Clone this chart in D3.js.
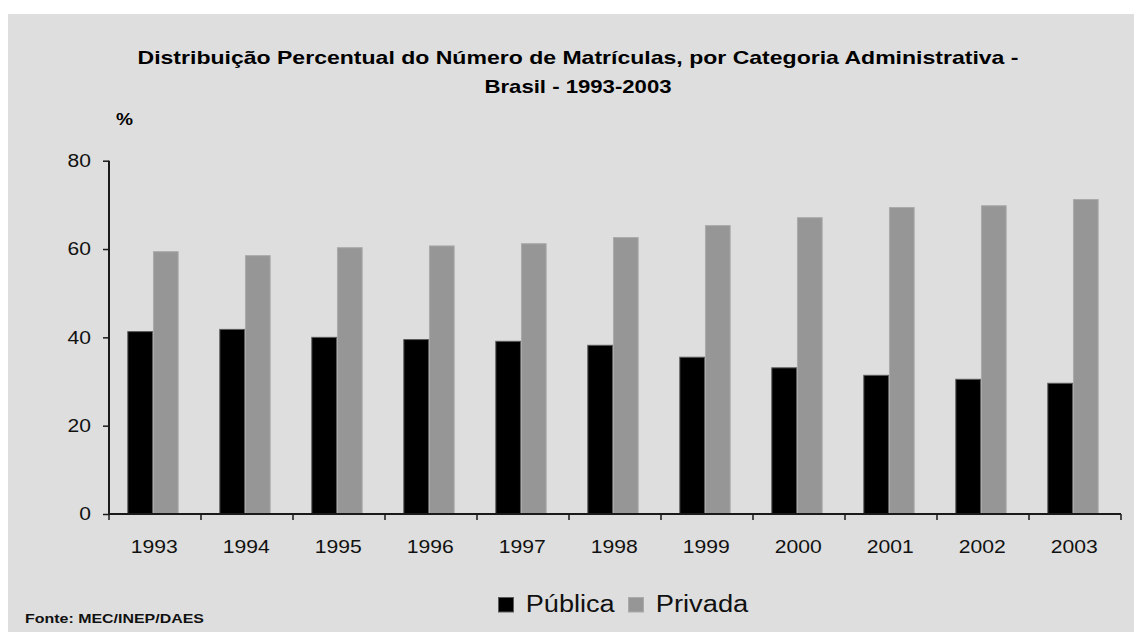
<!DOCTYPE html>
<html><head><meta charset="utf-8">
<script src="https://cdn.jsdelivr.net/npm/d3@7"></script>
<style>body{margin:0;background:#fff}svg{display:block}text{font-family:"Liberation Sans",Arial,sans-serif}</style>
</head><body><svg id="c" width="1137" height="632"></svg>
<script>
const years = ["1993","1994","1995","1996","1997","1998","1999","2000","2001","2002","2003"];
const series = ["Pública","Privada"];
const publica = [41.3,41.8,40.0,39.5,39.1,38.2,35.5,33.1,31.4,30.5,29.6];
const privada = [59.4,58.5,60.3,60.7,61.2,62.6,65.3,67.1,69.4,69.8,71.2];
const yTicks = [0,20,40,60,80];
const colors = {"Pública":"#000000","Privada":"#969696"};
const strokes = {"Pública":"#5a5a5a","Privada":"#aaaaaa"};
const titleLines = ["Distribuição Percentual do Número de Matrículas, por Categoria Administrativa -","Brasil - 1993-2003"];
const source = "Fonte: MEC/INEP/DAES";

const svg = d3.select("#c");
svg.append("rect").attr("x",8).attr("y",14).attr("width",1126).attr("height",618).attr("fill","#dedede");

const y = d3.scaleLinear().domain([0,80]).range([514,160.7]);
const x0 = d3.scaleBand().domain(years).range([109,1121]).padding(0);
const bw = x0.bandwidth();
const x1 = d3.scaleBand().domain(series).range([bw*0.199, bw*0.757]).padding(0);

// title
svg.append("text").attr("x",578).attr("y",64).attr("text-anchor","middle")
  .attr("font-size",19).attr("font-weight","bold").attr("textLength",881).attr("lengthAdjust","spacingAndGlyphs")
  .text(titleLines[0]);
svg.append("text").attr("x",578).attr("y",93).attr("text-anchor","middle")
  .attr("font-size",19).attr("font-weight","bold").attr("textLength",187).attr("lengthAdjust","spacingAndGlyphs")
  .text(titleLines[1]);
svg.append("text").attr("x",116).attr("y",125).attr("font-size",17).attr("font-weight","bold")
  .attr("textLength",17).attr("lengthAdjust","spacingAndGlyphs").text("%");

// bars
const data = years.map((yr,i)=>({year:yr, vals:[{s:"Pública",v:publica[i]},{s:"Privada",v:privada[i]}]}));
const g = svg.append("g");
g.selectAll("g.yr").data(data).join("g").attr("class","yr")
  .attr("transform",d=>`translate(${x0(d.year)},0)`)
  .selectAll("rect").data(d=>d.vals).join("rect")
  .attr("x",d=>x1(d.s)+0.5).attr("width",x1.bandwidth()-1)
  .attr("y",d=>y(d.v)).attr("height",d=>y(0)-y(d.v))
  .attr("fill",d=>colors[d.s]).attr("stroke",d=>strokes[d.s]).attr("stroke-width",1);

// y axis
const yAxis = svg.append("g").attr("transform","translate(109,0)")
  .call(d3.axisLeft(y).tickValues(yTicks).tickSize(6).tickPadding(12).tickFormat(d3.format("d")));
yAxis.select(".domain").attr("stroke","#1a1a1a").attr("stroke-width",2).attr("d",`M0,${y(80)}V${y(0)}`);
yAxis.selectAll(".tick line").attr("stroke","#1a1a1a").attr("stroke-width",1.5);
yAxis.selectAll(".tick text").attr("font-size",18).attr("fill","#111").attr("font-family","Liberation Sans, Arial, sans-serif")
  .attr("textLength",d=>String(d).length*11.7).attr("lengthAdjust","spacingAndGlyphs");

// x axis
const xb = svg.append("g");
xb.append("line").attr("x1",108).attr("x2",x0.range()[1]).attr("y1",y(0)).attr("y2",y(0))
  .attr("stroke","#1a1a1a").attr("stroke-width",2);
const bounds = years.map(d=>x0(d)).concat([x0.range()[1]]);
xb.selectAll("line.t").data(bounds).join("line").attr("class","t")
  .attr("x1",d=>d).attr("x2",d=>d).attr("y1",y(0)).attr("y2",y(0)+6)
  .attr("stroke","#1a1a1a").attr("stroke-width",1.5);
xb.selectAll("text").data(years).join("text")
  .attr("x",d=>x0(d)+bw/2-0.8).attr("y",553).attr("text-anchor","middle")
  .attr("font-size",18).attr("fill","#111").attr("textLength",47).attr("lengthAdjust","spacingAndGlyphs")
  .text(d=>d);

// legend
const leg = [{s:"Pública",sx:498.5,tx:525.7,tl:89},{s:"Privada",sx:628.5,tx:655.7,tl:92.6}];
leg.forEach(l=>{
  svg.append("rect").attr("x",l.sx).attr("y",597.5).attr("width",15).attr("height",14.5)
    .attr("fill",colors[l.s]).attr("stroke",strokes[l.s]).attr("stroke-width",1);
  svg.append("text").attr("x",l.tx).attr("y",612.3).attr("font-size",23).attr("fill","#111")
    .attr("textLength",l.tl).attr("lengthAdjust","spacingAndGlyphs").text(l.s);
});

// source
svg.append("text").attr("x",25).attr("y",622.5).attr("font-size",13).attr("font-weight","bold")
  .attr("fill","#111").attr("textLength",179).attr("lengthAdjust","spacingAndGlyphs").text(source);
</script></body></html>
